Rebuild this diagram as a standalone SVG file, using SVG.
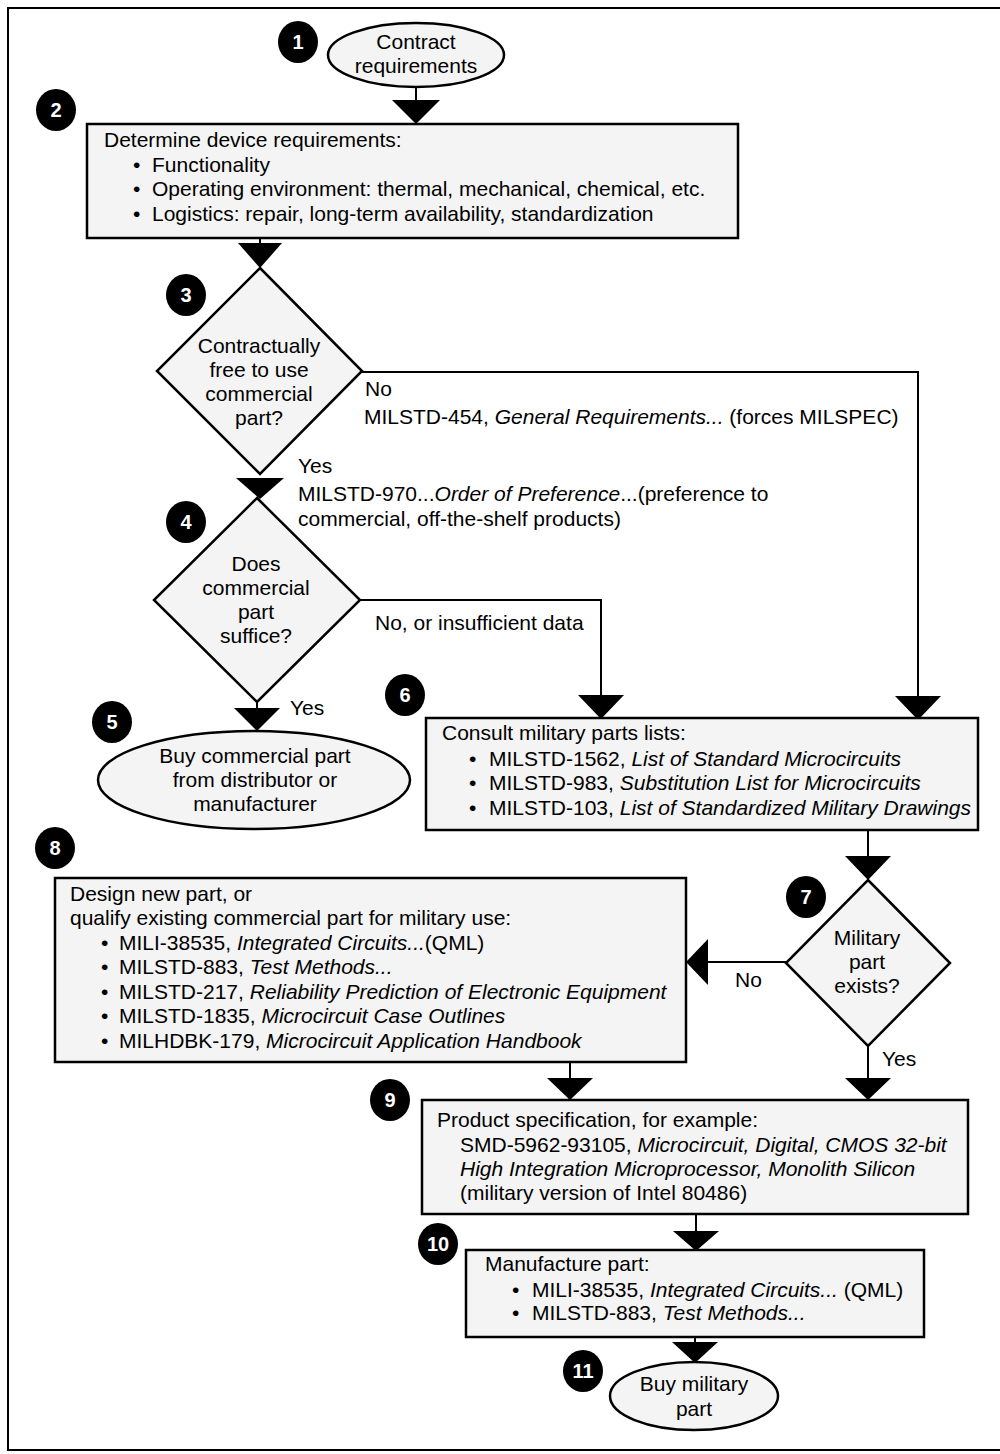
<svg xmlns="http://www.w3.org/2000/svg" width="1000" height="1454" viewBox="0 0 1000 1454">
<style>
.sh{fill:#f4f4f4;stroke:#000;stroke-width:2.5}
.t{font-family:"Liberation Sans",Arial,sans-serif;font-size:21px;fill:#000}
.c{text-anchor:middle}
.b ellipse{fill:#000}
.b text{font-family:"Liberation Sans",Arial,sans-serif;font-size:20px;font-weight:bold;fill:#fff;text-anchor:middle}
.ln{fill:none;stroke:#000;stroke-width:2}
.ah{fill:#000}
</style>
<rect x="8" y="8" width="1000" height="1442" fill="#fff" stroke="#000" stroke-width="2"/>
<g id="connectors">
<line class="ln" x1="416" y1="86" x2="416" y2="104"/>
<polygon class="ah" points="392,100 440,100 416,124"/>
<line class="ln" x1="260" y1="238" x2="260" y2="246"/>
<polygon class="ah" points="238,243 282,243 260,268"/>
<polyline class="ln" points="362,372 918,372 918,700"/>
<polygon class="ah" points="895,696 941,696 918,720"/>
<polygon class="ah" points="236,478 284,478 260,499"/>
<polyline class="ln" points="360,600 601,600 601,700"/>
<polygon class="ah" points="578,695 624,695 601,719"/>
<line class="ln" x1="257" y1="702" x2="257" y2="712"/>
<polygon class="ah" points="234,708 280,708 257,731"/>
<line class="ln" x1="868" y1="830" x2="868" y2="860"/>
<polygon class="ah" points="845,856 891,856 868,880"/>
<line class="ln" x1="786" y1="962" x2="702" y2="962"/>
<polygon class="ah" points="708,939 708,985 686,962"/>
<line class="ln" x1="570" y1="1062" x2="570" y2="1082"/>
<polygon class="ah" points="547,1078 593,1078 570,1100"/>
<line class="ln" x1="868" y1="1046" x2="868" y2="1082"/>
<polygon class="ah" points="845,1078 891,1078 868,1100"/>
<line class="ln" x1="696" y1="1214" x2="696" y2="1236"/>
<polygon class="ah" points="673,1231 719,1231 696,1251"/>
<line class="ln" x1="695" y1="1337" x2="695" y2="1346"/>
<polygon class="ah" points="672,1342 718,1342 695,1363"/>
<text class="t" x="365" y="396">No</text>
<text class="t" x="364" y="424">MILSTD-454, <tspan font-style="italic">General Requirements...</tspan> (forces MILSPEC)</text>
<text class="t" x="298" y="473">Yes</text>
<text class="t" x="298" y="501">MILSTD-970...<tspan font-style="italic">Order of Preference</tspan>...(preference to</text>
<text class="t" x="298" y="526">commercial, off-the-shelf products)</text>
<text class="t" x="375" y="630">No, or insufficient data</text>
<text class="t" x="290" y="715">Yes</text>
<text class="t" x="735" y="987">No</text>
<text class="t" x="882" y="1066">Yes</text>
</g>
<g id="n1">
<ellipse class="sh" cx="416" cy="55" rx="88" ry="32"/>
<text class="t c" x="416" y="49">Contract</text>
<text class="t c" x="416" y="73">requirements</text>
<g class="b"><ellipse cx="298" cy="42" rx="20" ry="21"/><text x="298" y="49">1</text></g>
</g>
<g id="n2">
<rect class="sh" x="87" y="124" width="651" height="114"/>
<text class="t" x="104" y="147">Determine device requirements:</text>
<text class="t" x="133" y="172">•</text><text class="t" x="152" y="172">Functionality</text>
<text class="t" x="133" y="196">•</text><text class="t" x="152" y="196">Operating environment: thermal, mechanical, chemical, etc.</text>
<text class="t" x="133" y="221">•</text><text class="t" x="152" y="221">Logistics: repair, long-term availability, standardization</text>
<g class="b"><ellipse cx="56" cy="110" rx="20" ry="21"/><text x="56" y="117">2</text></g>
</g>
<g id="n3">
<polygon class="sh" points="260,268 362,371 260,474 157,371"/>
<text class="t c" x="259" y="353">Contractually</text>
<text class="t c" x="259" y="377">free to use</text>
<text class="t c" x="259" y="401">commercial</text>
<text class="t c" x="259" y="425">part?</text>
<g class="b"><ellipse cx="186" cy="295" rx="20" ry="21"/><text x="186" y="302">3</text></g>
</g>
<g id="n4">
<polygon class="sh" points="257,498 360,600 257,702 154,600"/>
<text class="t c" x="256" y="571">Does</text>
<text class="t c" x="256" y="595">commercial</text>
<text class="t c" x="256" y="619">part</text>
<text class="t c" x="256" y="643">suffice?</text>
<g class="b"><ellipse cx="186" cy="522" rx="20" ry="21"/><text x="186" y="529">4</text></g>
</g>
<g id="n5">
<ellipse class="sh" cx="254" cy="780" rx="156" ry="49"/>
<text class="t c" x="255" y="763">Buy commercial part</text>
<text class="t c" x="255" y="787">from distributor or</text>
<text class="t c" x="255" y="811">manufacturer</text>
<g class="b"><ellipse cx="112" cy="722" rx="20" ry="21"/><text x="112" y="729">5</text></g>
</g>
<g id="n6">
<rect class="sh" x="426" y="718" width="552" height="112"/>
<text class="t" x="442" y="740">Consult military parts lists:</text>
<text class="t" x="469" y="766">•</text><text class="t" x="489" y="766">MILSTD-1562, <tspan font-style="italic">List of Standard Microcircuits</tspan></text>
<text class="t" x="469" y="790">•</text><text class="t" x="489" y="790">MILSTD-983, <tspan font-style="italic">Substitution List for Microcircuits</tspan></text>
<text class="t" x="469" y="815">•</text><text class="t" x="489" y="815">MILSTD-103, <tspan font-style="italic">List of Standardized Military Drawings</tspan></text>
<g class="b"><ellipse cx="405" cy="695" rx="20" ry="21"/><text x="405" y="702">6</text></g>
</g>
<g id="n7">
<polygon class="sh" points="868,880 950,963 868,1046 786,963"/>
<text class="t c" x="867" y="945">Military</text>
<text class="t c" x="867" y="969">part</text>
<text class="t c" x="867" y="993">exists?</text>
<g class="b"><ellipse cx="806" cy="897" rx="20" ry="21"/><text x="806" y="904">7</text></g>
</g>
<g id="n8">
<rect class="sh" x="55" y="878" width="631" height="184"/>
<text class="t" x="70" y="901">Design new part, or</text>
<text class="t" x="70" y="925">qualify existing commercial part for military use:</text>
<text class="t" x="101" y="950">•</text><text class="t" x="119" y="950">MILI-38535, <tspan font-style="italic">Integrated Circuits...</tspan>(QML)</text>
<text class="t" x="101" y="974">•</text><text class="t" x="119" y="974">MILSTD-883, <tspan font-style="italic">Test Methods...</tspan></text>
<text class="t" x="101" y="999">•</text><text class="t" x="119" y="999">MILSTD-217, <tspan font-style="italic">Reliability Prediction of Electronic Equipment</tspan></text>
<text class="t" x="101" y="1023">•</text><text class="t" x="119" y="1023">MILSTD-1835, <tspan font-style="italic">Microcircuit Case Outlines</tspan></text>
<text class="t" x="101" y="1048">•</text><text class="t" x="119" y="1048">MILHDBK-179, <tspan font-style="italic">Microcircuit Application Handbook</tspan></text>
<g class="b"><ellipse cx="55" cy="848" rx="20" ry="21"/><text x="55" y="855">8</text></g>
</g>
<g id="n9">
<rect class="sh" x="422" y="1100" width="546" height="114"/>
<text class="t" x="437" y="1127">Product specification, for example:</text>
<text class="t" x="460" y="1152">SMD-5962-93105, <tspan font-style="italic">Microcircuit, Digital, CMOS 32-bit</tspan></text>
<text class="t" x="460" y="1176" font-style="italic">High Integration Microprocessor, Monolith Silicon</text>
<text class="t" x="460" y="1200">(military version of Intel 80486)</text>
<g class="b"><ellipse cx="390" cy="1100" rx="20" ry="21"/><text x="390" y="1107">9</text></g>
</g>
<g id="n10">
<rect class="sh" x="466" y="1250" width="458" height="87"/>
<text class="t" x="485" y="1271">Manufacture part:</text>
<text class="t" x="512" y="1297">•</text><text class="t" x="532" y="1297">MILI-38535, <tspan font-style="italic">Integrated Circuits...</tspan> (QML)</text>
<text class="t" x="512" y="1320">•</text><text class="t" x="532" y="1320">MILSTD-883, <tspan font-style="italic">Test Methods...</tspan></text>
<g class="b"><ellipse cx="438" cy="1244" rx="20" ry="21"/><text x="438" y="1251">10</text></g>
</g>
<g id="n11">
<ellipse class="sh" cx="694" cy="1396" rx="84" ry="34"/>
<text class="t c" x="694" y="1391">Buy military</text>
<text class="t c" x="694" y="1416">part</text>
<g class="b"><ellipse cx="583" cy="1371" rx="20" ry="21"/><text x="583" y="1378">11</text></g>
</g>
</svg>
